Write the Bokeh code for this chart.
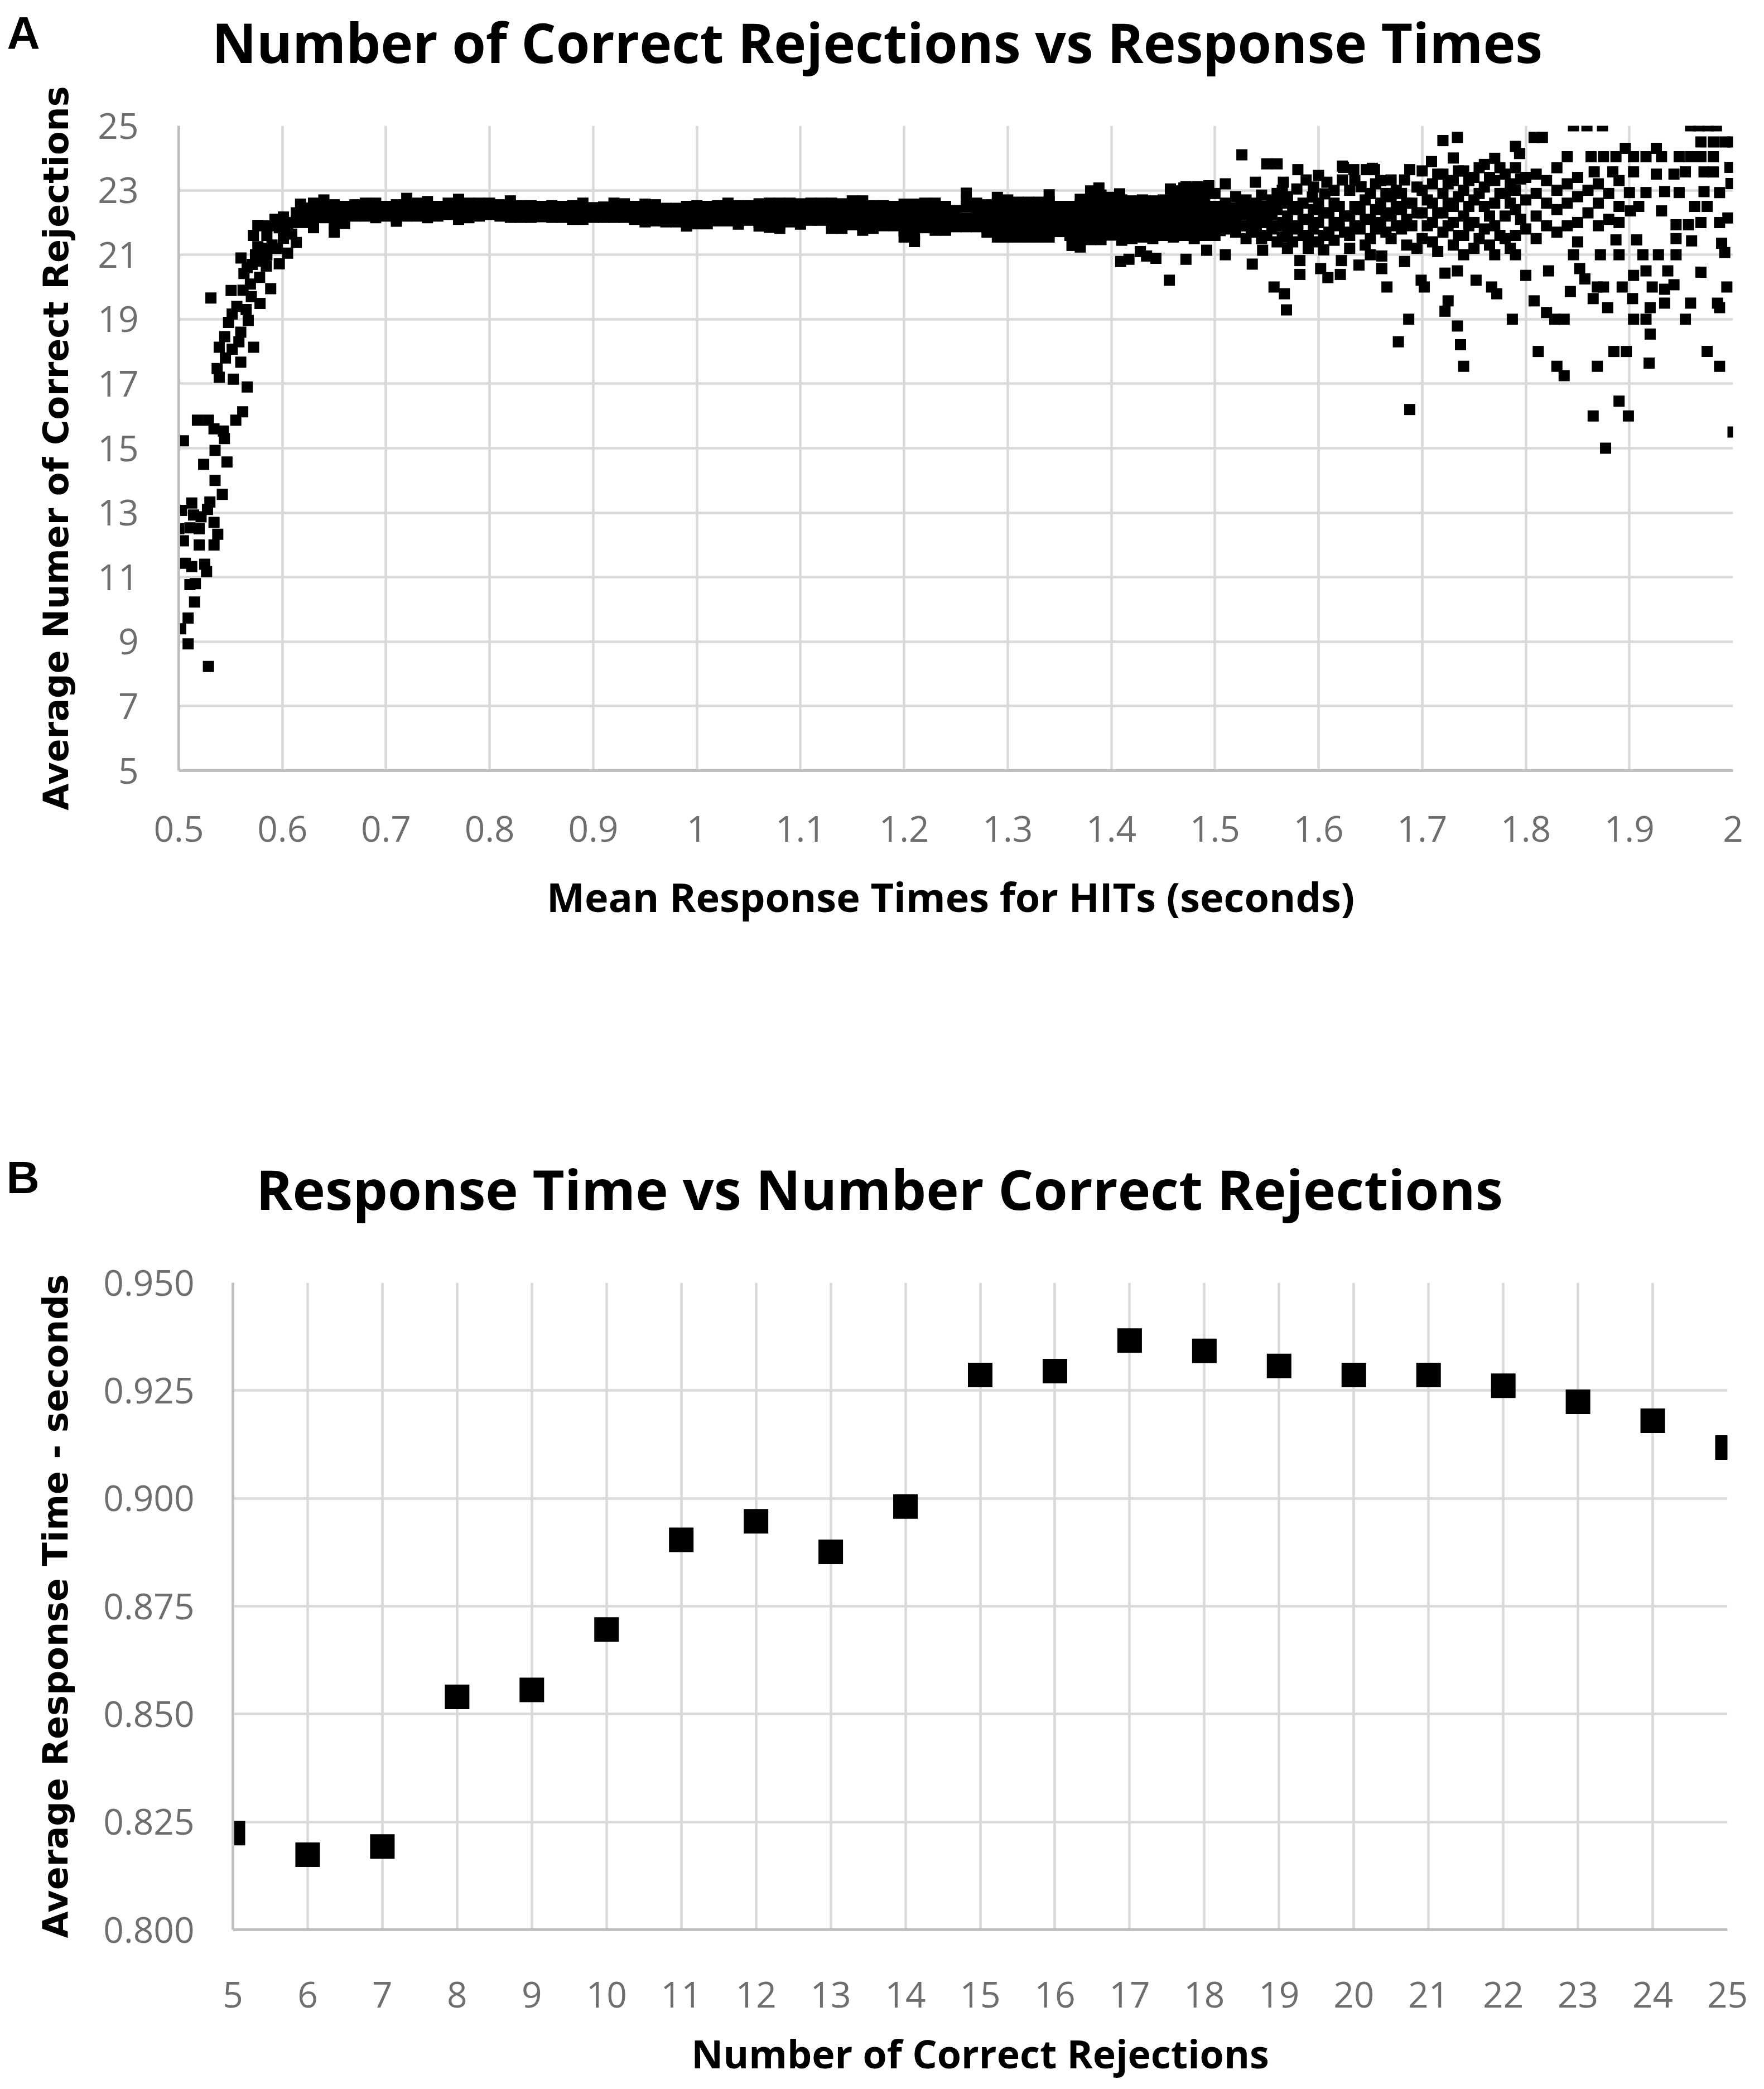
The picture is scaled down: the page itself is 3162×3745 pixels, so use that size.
from bokeh.plotting import figure
from bokeh.models import FixedTicker, Range1d, ColumnDataSource, Label
from bokeh.embed import file_html
from bokeh.resources import INLINE

# ---------------- Panel A data ----------------
a_x_ticks = [0.5, 0.6, 0.7, 0.8, 0.9, 1, 1.1, 1.2, 1.3, 1.4, 1.5, 1.6, 1.7, 1.8, 1.9, 2]
a_x_labels = ["0.5", "0.6", "0.7", "0.8", "0.9", "1", "1.1", "1.2", "1.3", "1.4",
              "1.5", "1.6", "1.7", "1.8", "1.9", "2"]
a_y_ticks = [5, 7, 9, 11, 13, 15, 17, 19, 21, 23, 25]
a_y_labels = ["5", "7", "9", "11", "13", "15", "17", "19", "21", "23", "25"]

# steep rise at short response times (x, y)
rise_pts = [
    (0.566, 16.9), (0.5617, 16.13), (0.518, 15.87), (0.5286, 15.87), (0.534, 15.6),
    (0.543, 15.53), (0.555, 15.87), (0.5045, 15.23), (0.544, 15.3), (0.535, 14.93),
    (0.524, 14.5), (0.5465, 14.57), (0.535, 14.0), (0.542, 13.57), (0.530, 13.33),
    (0.5125, 13.3), (0.5027, 13.07), (0.5143, 12.93), (0.5215, 12.87), (0.5277, 13.1),
    (0.534, 12.7), (0.5, 12.5), (0.5107, 12.53), (0.5197, 12.5), (0.5376, 12.33),
    (0.5045, 12.13), (0.5197, 12.0), (0.534, 12.0), (0.5063, 11.43), (0.5125, 11.33),
    (0.525, 11.4), (0.5268, 11.17), (0.5107, 10.77), (0.516, 10.8), (0.5152, 10.23),
    (0.509, 9.73), (0.5018, 9.4), (0.509, 8.93), (0.5286, 8.23),
    (0.531, 19.66), (0.5505, 19.89), (0.5629, 20.42), (0.5691, 20.09), (0.5887, 19.95),
    (0.5784, 19.49), (0.5515, 19.16), (0.567, 18.96), (0.5598, 18.6), (0.5443, 18.46),
    (0.539, 18.13), (0.5515, 18.07), (0.5722, 18.13), (0.5598, 17.67), (0.537, 17.47),
    (0.539, 17.2), (0.5526, 17.14), (0.5763, 21.91), (0.5763, 21.25), (0.5825, 20.98),
    (0.5845, 20.65), (0.597, 20.72), (0.5928, 22.1), (0.597, 21.84), (0.601, 21.51),
    (0.605, 21.05), (0.609, 21.64), (0.6134, 21.38), (0.601, 22.17), (0.6134, 22.3),
    (0.6175, 22.57), (0.572, 21.6), (0.574, 21.0), (0.571, 20.7), (0.58, 21.9),
    (0.585, 21.6), (0.59, 21.3), (0.59, 21.9), (0.595, 21.2), (0.6, 21.9),
    (0.605, 21.8), (0.61, 22.0), (0.58, 21.2), (0.575, 20.8), (0.585, 21.0),
    (0.556, 19.4), (0.548, 18.9), (0.565, 19.3), (0.545, 17.8), (0.558, 18.3),
    (0.562, 19.9), (0.57, 19.7), (0.566, 20.6), (0.578, 20.3), (0.56, 20.9),
]

band_x = [0.62, 0.63, 0.64, 0.65, 0.66, 0.67, 0.68, 0.69, 0.70, 0.71,
          0.72, 0.73, 0.74, 0.75, 0.76, 0.77, 0.78, 0.79, 0.80, 0.81,
          0.82, 0.83, 0.84, 0.85, 0.86, 0.87, 0.88, 0.89, 0.90, 0.91,
          0.92, 0.93, 0.94, 0.95, 0.96, 0.97, 0.98, 0.99, 1.00, 1.01,
          1.02, 1.03, 1.04, 1.05, 1.06, 1.07, 1.08, 1.09, 1.10, 1.11,
          1.12, 1.13, 1.14, 1.15, 1.16, 1.17, 1.18, 1.19, 1.20, 1.21,
          1.22, 1.23, 1.24, 1.25, 1.26, 1.27, 1.28, 1.29, 1.30, 1.31,
          1.32, 1.33, 1.34, 1.35, 1.36, 1.37, 1.38, 1.39, 1.40, 1.41,
          1.42, 1.43, 1.44, 1.45, 1.46, 1.47, 1.48, 1.49]
band_top = [22.45, 22.6, 22.7, 22.55, 22.5, 22.55, 22.6, 22.6, 22.5, 22.55,
            22.75, 22.6, 22.65, 22.5, 22.6, 22.72, 22.6, 22.6, 22.6, 22.55,
            22.67, 22.52, 22.52, 22.5, 22.52, 22.5, 22.52, 22.6, 22.46, 22.48,
            22.6, 22.58, 22.5, 22.57, 22.55, 22.44, 22.44, 22.5, 22.52, 22.5,
            22.52, 22.6, 22.52, 22.52, 22.58, 22.6, 22.6, 22.6, 22.58, 22.6,
            22.6, 22.6, 22.58, 22.67, 22.67, 22.52, 22.52, 22.5, 22.57, 22.57,
            22.6, 22.6, 22.5, 22.37, 22.91, 22.6, 22.55, 22.78, 22.7, 22.63,
            22.63, 22.63, 22.86, 22.5, 22.5, 22.72, 22.98, 22.85, 22.78, 22.7,
            22.67, 22.7, 22.67, 22.7, 22.98, 23.07, 23.07, 23.1]
band_mid = [22.3, 22.4, 22.5, 22.4, 22.35, 22.4, 22.45, 22.45, 22.4, 22.4,
            22.5, 22.45, 22.45, 22.4, 22.45, 22.5, 22.45, 22.45, 22.45, 22.45,
            22.45, 22.4, 22.4, 22.4, 22.4, 22.4, 22.4, 22.4, 22.35, 22.38,
            22.42, 22.42, 22.38, 22.4, 22.38, 22.32, 22.32, 22.35, 22.35, 22.34,
            22.36, 22.4, 22.35, 22.36, 22.38, 22.4, 22.4, 22.42, 22.4, 22.42,
            22.42, 22.38, 22.36, 22.45, 22.42, 22.32, 22.35, 22.32, 22.3, 22.25,
            22.36, 22.34, 22.28, 22.2, 22.5, 22.4, 22.3, 22.45, 22.4, 22.35,
            22.3, 22.3, 22.45, 22.25, 22.2, 22.35, 22.5, 22.45, 22.4, 22.3,
            22.3, 22.35, 22.3, 22.3, 22.5, 22.6, 22.55, 22.6]
band_low = [22.15, 22.2, 22.3, 22.2, 22.2, 22.25, 22.3, 22.3, 22.3, 22.25,
            22.35, 22.3, 22.3, 22.3, 22.35, 22.3, 22.3, 22.3, 22.35, 22.3,
            22.3, 22.3, 22.3, 22.3, 22.28, 22.28, 22.25, 22.25, 22.25, 22.27,
            22.28, 22.28, 22.24, 22.2, 22.2, 22.18, 22.18, 22.12, 22.15, 22.15,
            22.2, 22.22, 22.15, 22.2, 22.14, 22.12, 22.1, 22.22, 22.18, 22.24,
            22.24, 22.1, 22.1, 22.18, 22.1, 22.06, 22.12, 22.1, 21.95, 21.85,
            22.1, 22.05, 22.02, 22.05, 22.15, 22.12, 22.0, 22.0, 21.95, 21.95,
            21.9, 21.92, 22.0, 22.0, 21.9, 21.9, 22.0, 21.95, 22.0, 21.9,
            21.9, 21.95, 21.9, 21.95, 22.0, 22.1, 22.05, 22.1]
band_extra = [22.08, 22.02, 22.22, 21.95, 22.08, 22.32, 22.38, 22.22, 22.35, 22.15,
              22.28, 22.38, 22.22, 22.25, 22.3, 22.2, 22.22, 22.38, 22.3, 22.38,
              22.22, 22.22, 22.35, 22.22, 22.22, 22.33, 22.18, 22.18, 22.2, 22.22,
              22.22, 22.35, 22.16, 22.1, 22.12, 22.1, 22.25, 22.0, 22.05, 22.06,
              22.12, 22.14, 22.05, 22.14, 22.0, 21.98, 21.95, 22.12, 22.06, 22.15,
              22.15, 21.96, 21.96, 22.05, 21.92, 21.94, 22.0, 22.0, 21.75, 21.63,
              21.97, 21.9, 21.89, 21.96, 22.02, 22.0, 21.85, 21.78, 21.75, 21.75,
              21.72, 21.73, 21.78, 21.86, 21.75, 21.57, 21.74, 21.71, 21.8, 21.67,
              21.7, 21.75, 21.7, 21.78, 21.78, 21.85, 21.78, 21.85]
band_bot = [22.0, 21.84, 22.15, 21.7, 21.97, 22.2, 22.2, 22.15, 22.2, 22.04,
            22.2, 22.2, 22.15, 22.2, 22.25, 22.1, 22.15, 22.2, 22.25, 22.2,
            22.16, 22.16, 22.16, 22.18, 22.16, 22.16, 22.1, 22.1, 22.16, 22.16,
            22.16, 22.16, 22.1, 22.02, 22.05, 22.02, 22.02, 21.89, 21.96, 21.96,
            22.05, 22.05, 21.95, 22.07, 21.89, 21.85, 21.82, 22.02, 21.95, 22.07,
            22.07, 21.82, 21.82, 21.93, 21.76, 21.82, 21.9, 21.9, 21.55, 21.41,
            21.84, 21.76, 21.76, 21.87, 21.87, 21.87, 21.7, 21.55, 21.55, 21.55,
            21.55, 21.55, 21.55, 21.72, 21.6, 21.24, 21.47, 21.47, 21.61, 21.45,
            21.5, 21.55, 21.5, 21.6, 21.55, 21.6, 21.5, 21.6]

# extra points inside the widest part of the band (x, y)
band_inner_pts = [
    (1.20, 22.43), (1.21, 22.41), (1.22, 22.48), (1.23, 22.47), (1.24, 22.39),
    (1.26, 22.7), (1.27, 22.5), (1.28, 22.42), (1.29, 22.6), (1.30, 22.55),
    (1.31, 22.5), (1.32, 22.47), (1.33, 22.47), (1.34, 22.65), (1.35, 22.38),
    (1.36, 22.35), (1.37, 22.55), (1.38, 22.75), (1.39, 22.65), (1.40, 22.6),
    (1.41, 22.5), (1.42, 22.48), (1.43, 22.52), (1.44, 22.48), (1.45, 22.5),
    (1.46, 22.75), (1.47, 22.85), (1.48, 22.8), (1.49, 22.85),
    (1.20, 22.12), (1.21, 22.05), (1.28, 22.15), (1.29, 22.22), (1.30, 22.18),
    (1.31, 22.15), (1.32, 22.1), (1.33, 22.11), (1.34, 22.22), (1.36, 22.05),
    (1.37, 22.12), (1.38, 22.25), (1.39, 22.2), (1.40, 22.2), (1.41, 22.1),
    (1.42, 22.1), (1.43, 22.15), (1.44, 22.1), (1.45, 22.12), (1.46, 22.25),
    (1.47, 22.35), (1.48, 22.3), (1.49, 22.35),
]

# widening scatter at long response times (x, y)
tail_pts = [
    (1.362, 21.29), (1.388, 23.07), (1.408, 22.89), (1.409, 20.79), (1.417, 20.86),
    (1.428, 21.1), (1.434, 20.96), (1.443, 20.89), (1.456, 20.21), (1.457, 23.04),
    (1.472, 20.86), (1.472, 23.11), (1.483, 23.11), (1.492, 21.14), (1.494, 23.14),
    (1.50, 22.9), (1.50, 22.5), (1.50, 22.2), (1.50, 21.9), (1.50, 21.6),
    (1.51, 23.2), (1.51, 22.6), (1.51, 22.3), (1.51, 22.0), (1.51, 21.0),
    (1.52, 22.8), (1.52, 22.4), (1.52, 22.1), (1.52, 21.7),
    (1.526, 24.1), (1.53, 22.7), (1.53, 22.3), (1.53, 21.9), (1.53, 21.5),
    (1.539, 23.25), (1.54, 22.6), (1.54, 22.2), (1.54, 21.8), (1.536, 20.71),
    (1.55, 23.82), (1.55, 22.5), (1.55, 22.1), (1.55, 21.6), (1.546, 21.14),
    (1.56, 23.82), (1.56, 22.9), (1.56, 22.4), (1.56, 21.9), (1.56, 21.4), (1.557, 20.0),
    (1.566, 23.25), (1.57, 22.8), (1.57, 22.2), (1.57, 21.7), (1.57, 21.2),
    (1.567, 19.79), (1.569, 19.29),
    (1.58, 23.64), (1.579, 23.04), (1.58, 22.4), (1.58, 21.8), (1.582, 20.82), (1.582, 20.39),
    (1.588, 23.32), (1.594, 22.79), (1.59, 22.1), (1.59, 21.5), (1.59, 21.2),
    (1.60, 23.46), (1.60, 22.6), (1.60, 22.0), (1.60, 21.4), (1.602, 20.57),
    (1.608, 23.25), (1.606, 22.89), (1.61, 22.3), (1.61, 21.7), (1.609, 20.29),
    (1.624, 23.71), (1.623, 23.32), (1.62, 22.5), (1.62, 21.9), (1.621, 20.39), (1.622, 20.82),
    (1.623, 23.75), (1.634, 23.64), (1.63, 23.0), (1.63, 22.2), (1.63, 21.6), (1.63, 21.2),
    (1.646, 23.64), (1.641, 23.11), (1.64, 22.4), (1.64, 21.8), (1.639, 20.68),
    (1.654, 23.64), (1.652, 23.68), (1.65, 22.9), (1.65, 22.1), (1.65, 21.5), (1.65, 21.0),
    (1.66, 23.3), (1.66, 22.6), (1.66, 22.0), (1.661, 20.57), (1.661, 20.96), (1.666, 20.0),
    (1.67, 23.32), (1.67, 22.8), (1.67, 22.2), (1.67, 21.5),
    (1.688, 23.64), (1.683, 23.32), (1.68, 22.9), (1.68, 22.4), (1.68, 21.8), (1.683, 20.79),
    (1.69, 22.6), (1.69, 21.9), (1.687, 19.0), (1.677, 18.3), (1.688, 16.2),
    (1.70, 23.6), (1.70, 23.0), (1.70, 22.3), (1.70, 21.5), (1.699, 20.21), (1.702, 20.0),
    (1.709, 23.89), (1.71, 23.2), (1.71, 22.6), (1.71, 22.0), (1.71, 21.4),
    (1.72, 24.54), (1.72, 23.5), (1.72, 22.9), (1.72, 22.3), (1.72, 21.7), (1.722, 20.43),
    (1.734, 24.64), (1.73, 24.0), (1.73, 23.3), (1.73, 22.5), (1.73, 22.0), (1.73, 21.3),
    (1.734, 20.5), (1.725, 19.57), (1.722, 19.25), (1.734, 18.79), (1.737, 18.21), (1.74, 17.54),
    (1.74, 23.6), (1.74, 23.0), (1.74, 22.2), (1.74, 21.6), (1.74, 21.0),
    (1.75, 23.4), (1.75, 22.7), (1.75, 22.0), (1.75, 21.2), (1.752, 20.21),
    (1.76, 23.8), (1.76, 23.1), (1.76, 22.5), (1.76, 21.8),
    (1.77, 23.99), (1.77, 23.3), (1.77, 22.6), (1.77, 21.9), (1.77, 21.0), (1.767, 20.0),
    (1.78, 23.5), (1.78, 22.9), (1.78, 22.2), (1.78, 21.5), (1.772, 19.79),
    (1.79, 24.36), (1.79, 23.7), (1.79, 23.0), (1.79, 22.4), (1.79, 21.6), (1.79, 21.0),
    (1.794, 24.14), (1.80, 23.4), (1.80, 22.7), (1.80, 21.8), (1.80, 20.36), (1.787, 19.0),
    (1.808, 24.64), (1.816, 24.64), (1.81, 23.5), (1.81, 22.9), (1.81, 22.2), (1.81, 21.5),
    (1.808, 19.57), (1.812, 18.0),
    (1.82, 23.3), (1.82, 22.6), (1.82, 21.9), (1.822, 20.5), (1.82, 19.21),
    (1.83, 23.7), (1.83, 23.0), (1.83, 22.4), (1.83, 21.7), (1.828, 19.0), (1.83, 17.54),
    (1.84, 24.04), (1.84, 23.2), (1.84, 22.6), (1.84, 21.9), (1.837, 19.0), (1.837, 17.25),
    (1.846, 25.0), (1.85, 23.4), (1.85, 22.8), (1.85, 22.0), (1.85, 21.4), (1.846, 21.0),
    (1.852, 20.57), (1.843, 19.86), (1.857, 20.25),
    (1.859, 25.0), (1.863, 24.04), (1.866, 23.57), (1.86, 23.0), (1.86, 22.3),
    (1.865, 19.64), (1.869, 20.0), (1.869, 17.54), (1.865, 16.0),
    (1.874, 25.0), (1.875, 24.04), (1.87, 23.2), (1.87, 22.6), (1.87, 21.9), (1.872, 21.0),
    (1.875, 20.0), (1.879, 19.36), (1.877, 15.0),
    (1.884, 23.57), (1.887, 24.04), (1.88, 22.9), (1.88, 22.1), (1.887, 21.46),
    (1.885, 18.0), (1.89, 23.3), (1.89, 22.5), (1.89, 22.0), (1.89, 21.0), (1.893, 20.0),
    (1.89, 16.46), (1.896, 24.3), (1.897, 18.0), (1.899, 16.0),
    (1.9, 22.93), (1.901, 22.36), (1.904, 24.04), (1.904, 23.57), (1.903, 19.64),
    (1.904, 20.36), (1.904, 19.0), (1.907, 21.46), (1.909, 22.5),
    (1.913, 21.0), (1.916, 24.04), (1.916, 22.93), (1.916, 20.5), (1.916, 19.0),
    (1.919, 17.64), (1.92, 19.36), (1.92, 18.54), (1.922, 20.0),
    (1.926, 24.3), (1.926, 23.5), (1.928, 21.0), (1.931, 24.04), (1.931, 22.36),
    (1.934, 22.96), (1.934, 19.93), (1.934, 19.5), (1.937, 20.5),
    (1.943, 23.5), (1.943, 20.07), (1.945, 21.93), (1.945, 21.5), (1.945, 21.0),
    (1.948, 24.04), (1.948, 22.93), (1.954, 23.57), (1.954, 19.0),
    (1.957, 21.93), (1.959, 25.0), (1.959, 24.04), (1.959, 19.5), (1.96, 21.43),
    (1.963, 22.5), (1.967, 25.0), (1.969, 24.5), (1.969, 24.04), (1.969, 22.0),
    (1.969, 20.46), (1.972, 23.57), (1.972, 22.96), (1.975, 22.5), (1.975, 18.0),
    (1.976, 25.0), (1.981, 24.5), (1.981, 24.04), (1.981, 23.57), (1.984, 25.0),
    (1.985, 19.5), (1.987, 22.93), (1.987, 22.0), (1.987, 19.36), (1.987, 17.54),
    (1.989, 21.36), (1.992, 24.5), (1.992, 21.07), (1.994, 20.0), (1.995, 22.14),
    (1.997, 23.71), (1.998, 23.21), (2.0, 24.5), (2.0, 15.5),
]

# additional points filling the dark mass between 1.5 and 1.8 s (x, y)
tail_fill_pts = [
    (1.505, 22.35), (1.505, 22.05), (1.505, 21.75), (1.515, 22.45), (1.515, 22.15),
    (1.515, 21.8), (1.525, 22.6), (1.525, 22.25), (1.525, 21.9), (1.535, 22.5),
    (1.535, 22.1), (1.535, 21.7), (1.545, 22.85), (1.545, 22.35), (1.545, 22.0),
    (1.545, 21.5), (1.555, 22.7), (1.555, 22.25), (1.555, 21.8), (1.565, 23.0),
    (1.565, 22.6), (1.565, 22.0), (1.565, 21.55), (1.575, 22.5), (1.575, 21.9),
    (1.575, 21.4), (1.585, 22.6), (1.585, 22.1), (1.585, 21.6), (1.595, 23.1),
    (1.595, 22.4), (1.595, 21.8), (1.605, 22.3), (1.605, 21.6), (1.605, 21.15),
    (1.615, 23.0), (1.615, 22.6), (1.615, 22.0), (1.615, 21.45), (1.625, 22.2),
    (1.625, 21.7), (1.635, 23.3), (1.635, 22.5), (1.635, 21.9), (1.645, 22.7),
    (1.645, 22.1), (1.645, 21.3), (1.655, 23.2), (1.655, 22.4), (1.655, 21.8),
    (1.665, 22.9), (1.665, 22.3), (1.665, 21.7), (1.675, 23.0), (1.675, 22.5),
    (1.675, 21.9), (1.685, 22.6), (1.685, 22.1), (1.685, 21.3), (1.695, 23.1),
    (1.695, 22.3), (1.695, 21.2), (1.705, 22.7), (1.705, 21.9), (1.715, 23.5),
    (1.715, 22.3), (1.715, 21.1), (1.725, 23.2), (1.725, 22.6), (1.725, 21.9),
    (1.735, 23.6), (1.735, 22.8), (1.735, 21.6), (1.745, 23.3), (1.745, 22.5),
    (1.745, 21.9), (1.755, 23.7), (1.755, 22.9), (1.755, 21.5), (1.765, 23.4),
    (1.765, 22.2), (1.765, 21.3), (1.775, 23.7), (1.775, 22.9), (1.775, 21.6),
    (1.785, 23.2), (1.785, 22.6), (1.785, 21.2), (1.795, 23.35), (1.795, 22.1),
]

# ---------------- Panel B data ----------------
b_x = [5, 6, 7, 8, 9, 10, 11, 12, 13, 14, 15, 16, 17, 18, 19, 20, 21, 22, 23, 24, 25]
b_y = [0.8224, 0.8174, 0.8193, 0.8540, 0.8556, 0.8696, 0.8904, 0.8947, 0.8876, 0.8981,
       0.9286, 0.9295, 0.9366, 0.9342, 0.9307, 0.9286, 0.9286, 0.9261, 0.9224, 0.9180, 0.9118]
b_x_labels = ["5", "6", "7", "8", "9", "10", "11", "12", "13", "14", "15", "16", "17",
              "18", "19", "20", "21", "22", "23", "24", "25"]
b_y_ticks = [0.8, 0.825, 0.85, 0.875, 0.9, 0.925, 0.95]
b_y_labels = ["0.800", "0.825", "0.850", "0.875", "0.900", "0.925", "0.950"]

# ---------------- assemble panel A points ----------------
ax_pts = [p[0] for p in rise_pts]
ay_pts = [p[1] for p in rise_pts]
for col in (band_top, band_mid, band_low, band_extra, band_bot):
    ax_pts.extend(band_x)
    ay_pts.extend(col)
for group in (band_inner_pts, tail_pts, tail_fill_pts):
    ax_pts.extend(p[0] for p in group)
    ay_pts.extend(p[1] for p in group)
src_a = ColumnDataSource(dict(x=ax_pts, y=ay_pts))
src_b = ColumnDataSource(dict(x=b_x, y=b_y))

GRID = "#d9d9d9"
AXIS = "#bfbfbf"
TICK_COL = "#6e6e6e"
TICK_FONT = "Open Sans"
TICK_SIZE = "64px"


def style(p, xt, xl, yt, yl, xstand, ystand, xlabel, ylabel, xlstand, ylstand, xlsize):
    p.outline_line_color = None
    p.background_fill_color = "white"
    p.xaxis.ticker = FixedTicker(ticks=xt)
    p.yaxis.ticker = FixedTicker(ticks=yt)
    p.xgrid.ticker = FixedTicker(ticks=xt)
    p.ygrid.ticker = FixedTicker(ticks=yt)
    p.xaxis.major_label_overrides = dict(zip(xt, xl))
    p.yaxis.major_label_overrides = dict(zip(yt, yl))
    p.grid.grid_line_color = GRID
    p.grid.grid_line_width = 4.5
    for ax in (p.xaxis, p.yaxis):
        ax.axis_line_color = AXIS
        ax.axis_line_width = 5
        ax.major_tick_line_color = None
        ax.minor_tick_line_color = None
        ax.major_tick_out = 0
        ax.major_tick_in = 0
        ax.minor_tick_out = 0
        ax.major_label_text_font = TICK_FONT
        ax.major_label_text_font_size = TICK_SIZE
        ax.major_label_text_color = TICK_COL
        ax.axis_label_text_color = "black"
        ax.axis_label_text_font_style = "bold"
    p.xaxis.major_label_standoff = xstand
    p.yaxis.major_label_standoff = ystand
    p.xaxis.axis_label = xlabel
    p.xaxis.axis_label_text_font = "Open Sans"
    p.xaxis.axis_label_text_font_size = xlsize
    p.xaxis.axis_label_standoff = xlstand
    p.yaxis.axis_label = ylabel
    p.yaxis.axis_label_text_font = "DejaVu Sans"
    p.yaxis.axis_label_text_font_size = "62px"
    p.yaxis.axis_label_standoff = ylstand


def top_label(p, x, y, text, font, size, align):
    # x, y in canvas pixels of this figure (origin at its top-left corner)
    p.add_layout(Label(x=x, y=y, x_units="canvas", y_units="canvas", text=text,
                       text_font=font, text_font_size=size, text_font_style="bold",
                       text_align=align, text_baseline="alphabetic",
                       text_line_height=1.0, text_color="black"), "above")


# ---------------- Figure A ----------------
pa = figure(width=3146, height=1845, x_range=Range1d(0.5, 2.0), y_range=Range1d(5, 25),
            output_backend="svg", toolbar_location=None,
            min_border_left=320, min_border_right=40, min_border_top=224, min_border_bottom=464)
style(pa, a_x_ticks, a_x_labels, a_y_ticks, a_y_labels, 81, 72,
      "Mean Response Times for HITs  (seconds)", "Average Numer of Correct Rejections",
      46, 35, "72px")
pa.scatter("x", "y", source=src_a, marker="square", size=20, color="black", line_width=0)
top_label(pa, 1572, 74, "Number of Correct Rejections vs Response Times", "Open Sans", "98px", "center")
top_label(pa, 12, 58, "A", "Liberation Sans", "82px", "left")

# ---------------- Figure B ----------------
pb = figure(width=3146, height=1890, x_range=Range1d(5, 25), y_range=Range1d(0.8, 0.95),
            output_backend="svg", toolbar_location=None,
            min_border_left=417, min_border_right=50, min_border_top=454, min_border_bottom=276)
style(pb, b_x, b_x_labels, b_y_ticks, b_y_labels, 93, 69,
      "Number of Correct Rejections", "Average Response Time - seconds", 31, 46, "70px")
pb.scatter("x", "y", source=src_b, marker="square", size=44, color="black", line_width=0)
top_label(pb, 1576, 285, "Response Time vs Number Correct Rejections", "Open Sans", "99px", "center")
top_label(pb, 11, 265, "B", "Liberation Sans", "82px", "left")

open("out.html", "w").write(file_html([pa, pb], INLINE))
